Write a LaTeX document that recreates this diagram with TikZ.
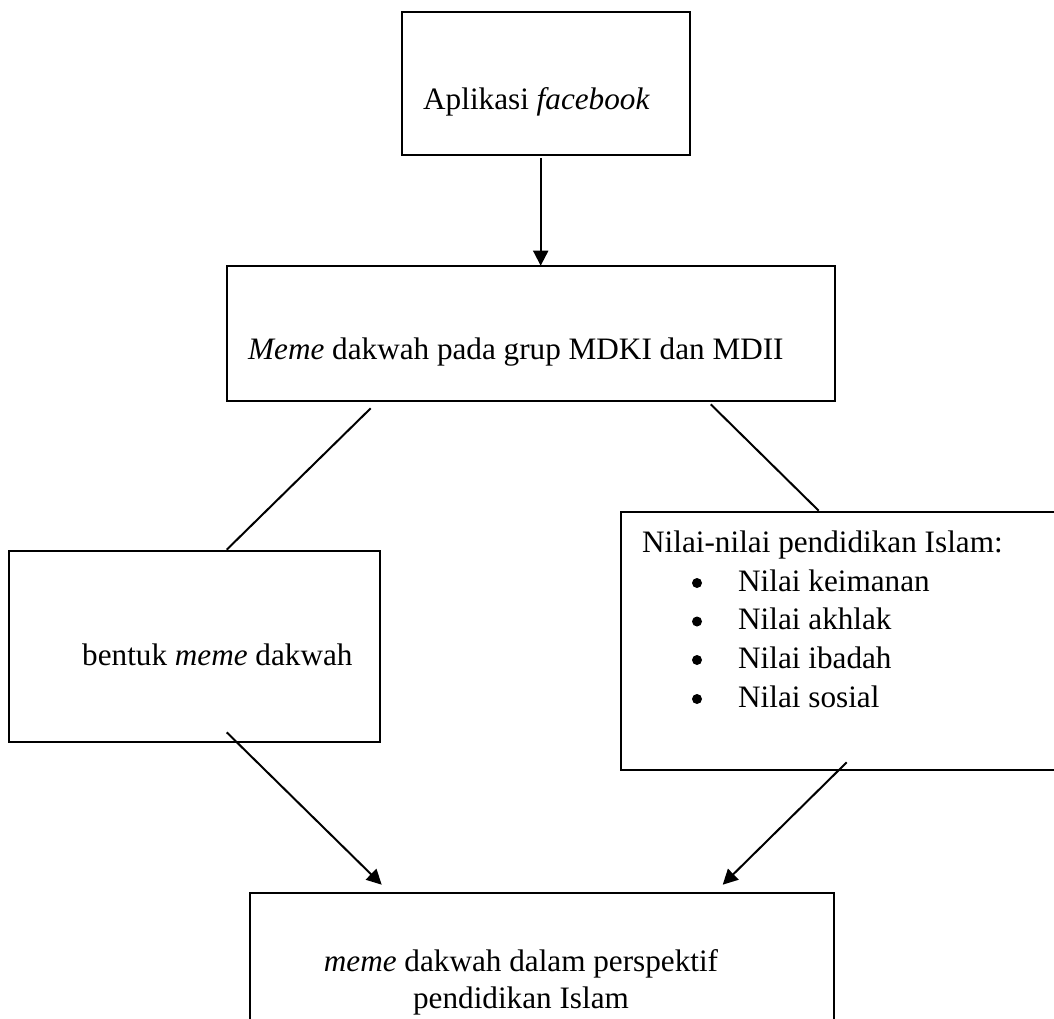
\documentclass[tikz,border=0pt]{standalone}
\usepackage{fontspec}
\setmainfont{Liberation Serif}
\usetikzlibrary{arrows.meta,calc}
\begin{document}
\begin{tikzpicture}[x=1pt,y=-1pt,
  box/.style={draw=black,line width=2.6pt,rectangle,inner sep=0pt},
  txt/.style={inner sep=0pt,anchor=base west,font=\fontsize{31.2}{37}\selectfont},
  ctxt/.style={inner sep=0pt,anchor=base,font=\fontsize{31.2}{37}\selectfont},
  bul/.style={circle,fill=black,inner sep=0pt,minimum size=10pt},
  conn/.style={line width=2pt,draw=black},
  arr/.style={conn,-{Triangle[length=15pt,width=15pt]}}]
\useasboundingbox (0,0) rectangle (1054,1019);
\fill[white] (0,0) rectangle (1054,1019);
\begin{scope}
\clip (0,0) rectangle (1054,1019);
% boxes
\node[box,minimum width=288pt,minimum height=143pt] (b1) at (546,83.5) {};
\node[box,minimum width=608pt,minimum height=135pt] (b2) at (531,333.5) {};
\node[box,minimum width=371pt,minimum height=191pt] (b3) at (194.5,646.5) {};
\node[box,minimum width=449pt,minimum height=258pt] (b4) at (845.5,641) {};
\node[box,minimum width=584pt,minimum height=142pt] (b5) at (542,964) {};
% texts
\node[txt] (t1) at (423,110) {Aplikasi \textit{facebook}};
\node[txt] (t2) at (248,359) {\textit{Meme} dakwah pada grup MDKI dan MDII};
\node[txt] (t3) at (82,665) {bentuk \textit{meme} dakwah};
\node[txt] (t4) at (642,552) {Nilai-nilai pendidikan Islam:};
\node[bul] (d1) at (697,583) {};
\node[bul] (d2) at (697,621.5) {};
\node[bul] (d3) at (697,660) {};
\node[bul] (d4) at (697,699) {};
\node[txt] (i1) at (738,591) {Nilai keimanan};
\node[txt] (i2) at (738,629.5) {Nilai akhlak};
\node[txt] (i3) at (738,668) {Nilai ibadah};
\node[txt] (i4) at (738,707) {Nilai sosial};
\node[ctxt] (t5a) at (521,971) {\textit{meme} dakwah dalam perspektif};
\node[ctxt] (t5b) at (521,1008) {pendidikan Islam};
% connectors
\coordinate (a1s) at ($(b1.south west)+(140,2)$);
\coordinate (a1e) at ($(b2.north west)+(315,1)$);
\draw[arr] (a1s) -- (a1e);
\coordinate (lls) at ($(b2.south west)+(145,6)$);
\coordinate (lle) at ($(b3.north west)+(219,0)$);
\draw[conn] (lls) -- (lle);
\coordinate (lrs) at ($(b2.south west)+(485,2)$);
\coordinate (lre) at ($(b4.north west)+(199,0)$);
\draw[conn] (lrs) -- (lre);
\coordinate (bls) at ($(b3.south west)+(219,-11)$);
\coordinate (ble) at ($(b5.north west)+(133,-7)$);
\draw[arr] (bls) -- (ble);
\coordinate (brs) at ($(b4.south west)+(227,-9)$);
\coordinate (bre) at ($(b5.north west)+(474,-7)$);
\draw[arr] (brs) -- (bre);
\end{scope}
\end{tikzpicture}
\end{document}
